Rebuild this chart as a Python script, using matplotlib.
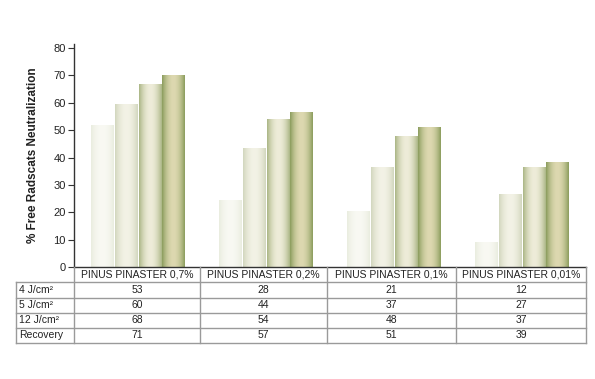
import numpy as np
import matplotlib
matplotlib.use('Agg')
import matplotlib.pyplot as plt
from matplotlib.colors import to_rgb
from matplotlib.lines import Line2D

plt.rcParams['font.family'] = ['Liberation Sans', 'DejaVu Sans']

categories = ['PINUS PINASTER 0,7%', 'PINUS PINASTER 0,2%',
              'PINUS PINASTER 0,1%', 'PINUS PINASTER 0,01%']
series = ['4 J/cm²', '5 J/cm²', '12 J/cm²', 'Recovery']
# values printed in the table
table_values = [[53, 28, 21, 12],
                [60, 44, 37, 27],
                [68, 54, 48, 37],
                [71, 57, 51, 39]]
# bar heights as drawn in the chart
bar_heights = [[52, 24.5, 20.5, 9],
               [59.5, 43.5, 36.5, 26.5],
               [67, 54, 48, 36.5],
               [70, 56.5, 51, 38.5]]
yticks = [0, 10, 20, 30, 40, 50, 60, 70, 80]

edge_cols = ['#eaede0', '#d3d8bf', '#adb888', '#8e9f60']
mid_cols = ['#f9f9f3', '#f3f2e6', '#eeecd9', '#ddd8b0']

W, H = 595, 379
fig = plt.figure(figsize=(W / 100, H / 100), dpi=100)

x_left, x_right = 74, 586
y_zero, y_top = 267, 43.9
ax = fig.add_axes([x_left / W, 1 - y_zero / H, (x_right - x_left) / W, (y_zero - y_top) / H])
ax.set_xlim(-0.5, 3.5)
ax.set_ylim(0, 81.5)

bw = 0.176
step = 0.184
t = np.linspace(0, 1, 64)
prof = np.clip(np.sin(np.pi * np.clip((t - 0.02) / 0.96, 0, 1)), 0, 1) ** 0.8
for s in range(len(series)):
    e = np.array(to_rgb(edge_cols[s]))
    m = np.array(to_rgb(mid_cols[s]))
    img = e[None, :] + (m - e)[None, :] * prof[:, None]
    img = img[None, :, :]
    xs = np.arange(len(categories)) + (s - 1.5) * step
    bars = ax.bar(xs, bar_heights[s], width=bw, color='none', edgecolor='none', zorder=2)
    for b in bars:
        x0 = b.get_x()
        h = b.get_height()
        im = ax.imshow(img, extent=[x0, x0 + bw, 0, h], aspect='auto',
                       interpolation='bilinear', zorder=2)
        im.set_clip_path(b)

ax.set_yticks(yticks)
ax.set_xticks([])
ax.tick_params(axis='y', direction='out', length=4, width=0.8, color='#333333',
               labelsize=8, labelcolor='#222222', pad=2)
for side in ['top', 'right']:
    ax.spines[side].set_visible(False)
ax.spines['left'].set_color('#333333')
ax.spines['bottom'].set_color('#333333')
ax.spines['left'].set_linewidth(1.0)
ax.spines['bottom'].set_linewidth(1.0)
ax.set_ylabel('% Free Radscats Neutralization', fontsize=8.5, fontweight='bold',
              color='#222222', labelpad=10)

# table below the axis
grid_col = '#9a9a9a'
col_edges = [74, 200, 327, 456, 586]
row_edges = [282.3, 297.7, 312.7, 327.7, 343.3]
tbl_left = 16


def fx(px):
    return px / W


def fy(py):
    return 1 - py / H


def hline(x0, x1, y):
    fig.add_artist(Line2D([fx(x0), fx(x1)], [fy(y), fy(y)], color=grid_col, lw=1.0))


def vline(x, y0, y1):
    fig.add_artist(Line2D([fx(x), fx(x)], [fy(y0), fy(y1)], color=grid_col, lw=1.0))


for y in row_edges:
    hline(tbl_left, col_edges[-1], y)
vline(tbl_left, row_edges[0], row_edges[-1])
for x in col_edges:
    vline(x, y_zero, row_edges[-1])

for j, cat in enumerate(categories):
    cx = (col_edges[j] + col_edges[j + 1]) / 2
    fig.text(fx(cx), fy((y_zero + row_edges[0]) / 2), cat, ha='center', va='center',
             fontsize=7.5, color='#222222')
for i, name in enumerate(series):
    cy = (row_edges[i] + row_edges[i + 1]) / 2
    fig.text(fx(tbl_left + 3), fy(cy), name, ha='left', va='center',
             fontsize=7.5, color='#222222')
    for j in range(len(categories)):
        cx = (col_edges[j] + col_edges[j + 1]) / 2
        fig.text(fx(cx), fy(cy), str(table_values[i][j]), ha='center', va='center',
                 fontsize=7.5, color='#222222')

fig.savefig('out.png', dpi=100)
